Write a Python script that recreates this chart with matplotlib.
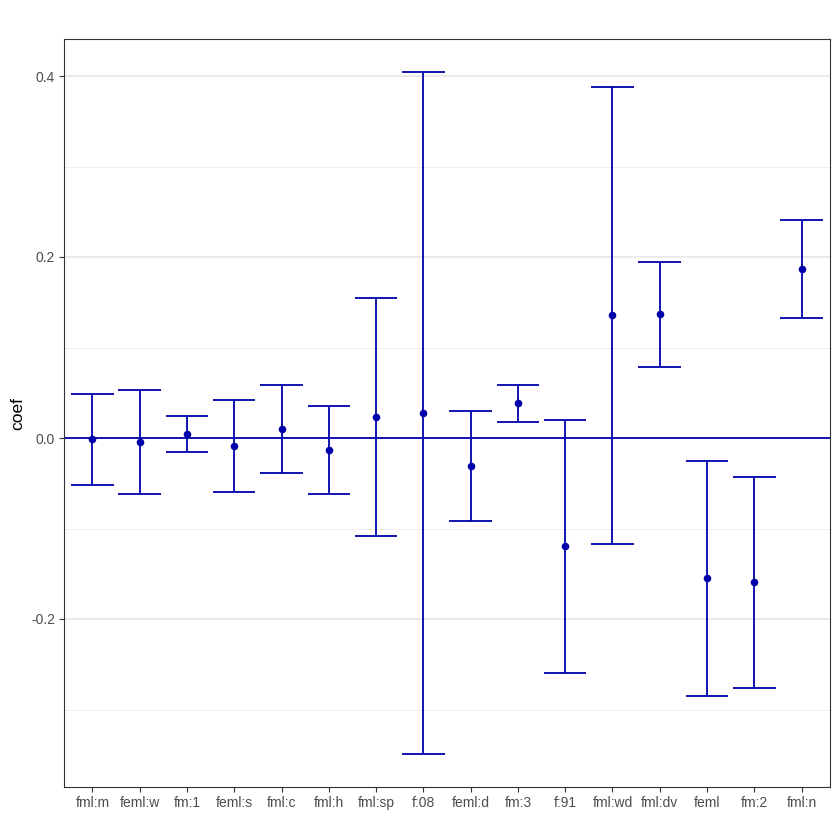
import numpy as np
import matplotlib.pyplot as plt

plt.rcParams['font.family'] = ['Liberation Sans', 'DejaVu Sans']

terms = ['fml:m', 'feml:w', 'fm:1', 'feml:s', 'fml:c', 'fml:h', 'fml:sp', 'f:08',
         'feml:d', 'fm:3', 'f:91', 'fml:wd', 'fml:dv', 'feml', 'fm:2', 'fml:n']
coef = [-0.001, -0.004, 0.0044, -0.0088, 0.010, -0.013, 0.023, 0.0276,
        -0.031, 0.0387, -0.119, 0.136, 0.137, -0.155, -0.159, 0.1867]
upper = [0.0486, 0.053, 0.0243, 0.042, 0.0586, 0.0354, 0.155, 0.404,
         0.030, 0.0586, 0.020, 0.388, 0.1945, -0.0254, -0.043, 0.241]
lower = [-0.052, -0.062, -0.0155, -0.060, -0.0387, -0.062, -0.108, -0.349,
         -0.092, 0.0177, -0.260, -0.117, 0.0785, -0.285, -0.276, 0.1326]

col = '#0000AA'
x = np.arange(1, len(terms) + 1)
coef = np.array(coef)
upper = np.array(upper)
lower = np.array(lower)

fig = plt.figure(figsize=(8.4, 8.4), dpi=100)
ax = fig.add_axes([64/840, 1 - 787/840, (830 - 64)/840, (787 - 39)/840])

# grid like ggplot theme_bw (horizontal only)
for v in [-0.3, -0.1, 0.1, 0.3]:
    ax.axhline(v, color='#EEEEEE', lw=0.7, zorder=0)
for v in [-0.2, 0.0, 0.2, 0.4]:
    ax.axhline(v, color='#E6E6E6', lw=1.2, zorder=0)

ax.axhline(0, color=col, lw=1.3, zorder=1)
# error bars, caps 0.9 wide
ax.vlines(x, lower, upper, color=col, lw=1.3, zorder=2)
ax.hlines(upper, x - 0.45, x + 0.45, color=col, lw=1.3, zorder=2)
ax.hlines(lower, x - 0.45, x + 0.45, color=col, lw=1.3, zorder=2)
ax.scatter(x, coef, s=30, color=col, zorder=3, linewidths=0)

ax.set_xlim(0.4, len(terms) + 0.6)
ax.set_ylim(-(787 - 438)/905, (438 - 39)/905)
ax.set_xticks(x)
ax.set_xticklabels(terms)
ax.set_yticks([-0.2, 0.0, 0.2, 0.4])
ax.set_yticklabels(['-0.2', '0.0', '0.2', '0.4'])
ax.set_ylabel('coef', fontsize=12.5, color='black', labelpad=4)

for sp in ax.spines.values():
    sp.set_color('#333333')
    sp.set_linewidth(0.8)
ax.tick_params(axis='both', colors='#333333', labelcolor='#4D4D4D', labelsize=10,
               length=3.5, width=0.8, pad=3)

fig.savefig('out.png', dpi=100)
